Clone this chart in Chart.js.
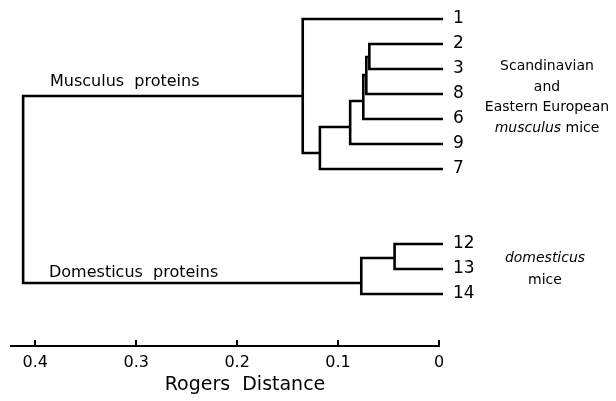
<!DOCTYPE html>
<html>
<head>
<meta charset="utf-8">
<script src="https://cdn.jsdelivr.net/npm/chart.js@4.4.1/dist/chart.umd.min.js"></script>
<style>
html,body{margin:0;padding:0;background:#fff}
canvas{display:block}
</style>
</head>
<body>
<canvas id="c" width="616" height="401"></canvas>
<script>
// leaves, top to bottom, and their row slot
const leafLabels = ['1','2','3','8','6','9','7','12','13','14']
const leafSlots = [0,1,2,3,4,5,6,9,10,11]
const leafEnd = -0.004

// merges: left child, right child, Rogers distance, row where the link leaves
const nodeNames = ['A','B','C','D','E','F','G','H','R']
const nodeLeft = ['2','A','B','C','D','1','12','G','F']
const nodeRight = ['3','8','6','9','7','E','13','14','H']
const nodeDist = [0.069,0.072,0.075,0.088,0.118,0.135,0.044,0.077,0.412]
const nodeSlot = [1.52,2.24,3.28,4.32,5.36,3.08,9.56,10.56,null]

const distTicks = [0,0.1,0.2,0.3,0.4]

const height = {}, slot = {}
leafLabels.forEach((l,i)=>{ height[l] = leafEnd; slot[l] = leafSlots[i] })
nodeNames.forEach((n,i)=>{ height[n] = nodeDist[i]; slot[n] = nodeSlot[i] })

const datasets = nodeNames.map((n,i)=>{
const L = nodeLeft[i], R = nodeRight[i]
return {
data:[
{x:height[L], y:slot[L]},
{x:nodeDist[i], y:slot[L]},
{x:nodeDist[i], y:slot[R]},
{x:height[R], y:slot[R]}
],
borderColor:'#000',
borderWidth:2.6,
pointRadius:0,
fill:false,
tension:0,
clip:false
}
})

const FONT = '"DejaVu Sans", sans-serif'

const notes = {
id:'notes',
afterDraw(chart){
const ctx = chart.ctx
ctx.save()
ctx.fillStyle = '#000'
ctx.textBaseline = 'middle'
ctx.font = '16px ' + FONT
ctx.textAlign = 'left'
ctx.fillText('Musculus  proteins', 50, 82)
ctx.fillText('Domesticus  proteins', 49, 273)
ctx.textAlign = 'center'
ctx.font = '14px ' + FONT
ctx.fillText('Scandinavian', 547, 66)
ctx.fillText('and', 547, 87)
ctx.fillText('Eastern European', 547, 107)
// mixed italic / upright line
const a = 'musculus', b = ' mice'
ctx.font = 'italic 14px ' + FONT
const wa = ctx.measureText(a).width
ctx.font = '14px ' + FONT
const wb = ctx.measureText(b).width
let x0 = 547 - (wa + wb) / 2
ctx.textAlign = 'left'
ctx.font = 'italic 14px ' + FONT
ctx.fillText(a, x0, 128)
ctx.font = '14px ' + FONT
ctx.fillText(b, x0 + wa, 128)
ctx.textAlign = 'center'
ctx.font = 'italic 14px ' + FONT
ctx.fillText('domesticus', 545, 258)
ctx.font = '14px ' + FONT
ctx.fillText('mice', 545, 280)
ctx.font = '19px ' + FONT
ctx.fillText('Rogers  Distance', 245, 385)
ctx.restore()
}
}

new Chart(document.getElementById('c'),{
type:'line',
data:{datasets:datasets},
options:{
responsive:false,
animation:false,
devicePixelRatio:1,
layout:{padding:{left:11,right:107,top:0,bottom:0}},
plugins:{legend:{display:false},tooltip:{enabled:false}},
scales:{
x:{
type:'linear',
reverse:true,
min:0,
max:0.424,
afterBuildTicks:s=>{ s.ticks = distTicks.map(v=>({value:v})) },
afterFit:s=>{ s.height = 55; s.paddingLeft = 0; s.paddingRight = 0 },
ticks:{
callback:v=> v === 0 ? '0' : v.toFixed(1),
color:'#000',
font:{family:FONT, size:16},
padding:13,
maxRotation:0,
autoSkip:false
},
grid:{drawOnChartArea:false, drawTicks:true, tickLength:-6, color:'#000', lineWidth:2},
border:{display:true, color:'#000', width:2}
},
y:{
type:'linear',
position:'right',
reverse:true,
min:-0.76,
max:13.08,
afterBuildTicks:s=>{ s.ticks = leafSlots.map(v=>({value:v})) },
afterFit:s=>{ s.width = 70; s.paddingTop = 0; s.paddingBottom = 0 },
ticks:{
callback:v=> leafLabels[leafSlots.indexOf(v)],
color:'#000',
font:{family:FONT, size:17},
padding:6,
autoSkip:false
},
grid:{display:false},
border:{display:false}
}
}
},
plugins:[notes]
})
</script>
</body>
</html>
